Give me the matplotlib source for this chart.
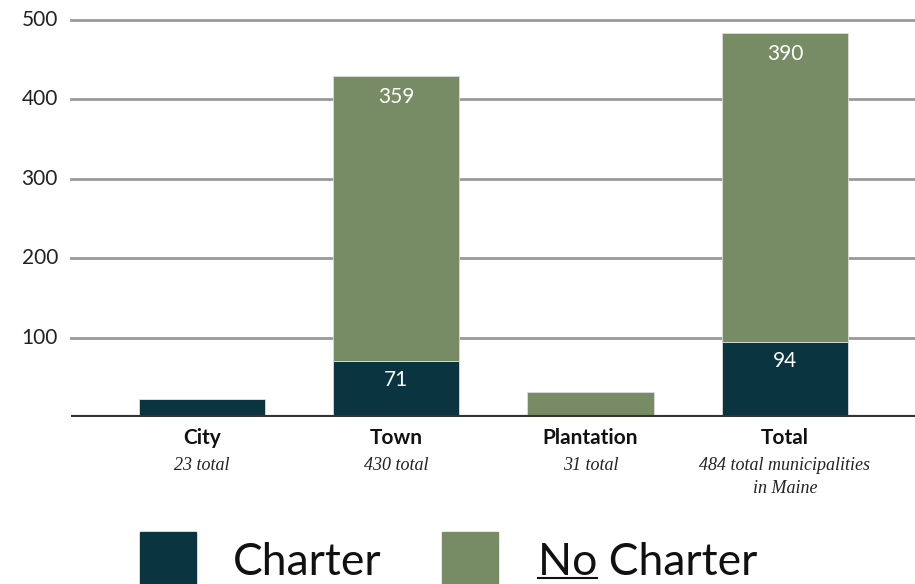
import numpy as np
import matplotlib
matplotlib.use("Agg")
import matplotlib.pyplot as plt
from matplotlib.patches import Rectangle

# data
categories = ["City", "Town", "Plantation", "Total"]
subtitles = ["23 total", "430 total", "31 total", "484 total municipalities\nin Maine"]
charter = [23, 71, 0, 94]
no_charter = [0, 359, 31, 390]
yticks = [100, 200, 300, 400, 500]

dark = "#0a3540"
green = "#778b64"

plt.rcParams['font.family'] = ['Lato', 'DejaVu Sans']

W, H = 915, 584
fig = plt.figure(figsize=(W / 100, H / 100), dpi=100)
ax = fig.add_axes([71 / W, 167 / H, (915 - 71) / W, (564 - 167) / H])

x = np.arange(len(categories))
ax.bar(x, charter, width=0.65, color=dark, edgecolor="#dddddd", linewidth=0.6, zorder=3)
ax.bar(x, no_charter, width=0.65, bottom=charter, color=green, edgecolor="#dddddd", linewidth=0.6, zorder=3)

ax.set_xlim(-0.675, 3.67)
ax.set_ylim(0, 500)

for y in yticks:
    ax.axhline(y, color="#999999", linewidth=2, zorder=1, clip_on=False)
    ax.annotate(str(y), (0, y), xycoords=("axes fraction", "data"), xytext=(-13, 0),
                textcoords="offset pixels", ha="right", va="center",
                fontsize=15, color="#222222", annotation_clip=False)
ax.axhline(0, color="#333333", linewidth=3, zorder=4)

for spine in ax.spines.values():
    spine.set_visible(False)
ax.set_xticks([])
ax.set_yticks([])

# value labels inside segments
for i in range(len(categories)):
    if charter[i] > 50:
        ax.annotate(str(charter[i]), (x[i], charter[i]), xytext=(0, -19), textcoords="offset pixels",
                    ha="center", va="center", color="white", fontsize=15, zorder=5)
    if no_charter[i] > 50:
        ax.annotate(str(no_charter[i]), (x[i], charter[i] + no_charter[i]), xytext=(0, -21),
                    textcoords="offset pixels", ha="center", va="center", color="white",
                    fontsize=15, zorder=5)

# category labels
for i, (c, s) in enumerate(zip(categories, subtitles)):
    ax.annotate(c, (x[i], 0), xytext=(0, -21), textcoords="offset pixels", ha="center",
                va="center", fontsize=15, fontweight="bold", color="#111111", annotation_clip=False)
    ax.annotate(s, (x[i], 0), xytext=(0, -40), textcoords="offset pixels", ha="center",
                va="top", fontsize=13, fontstyle="italic", family="Liberation Serif",
                color="#222222", linespacing=1.45, annotation_clip=False)

# legend
fig.patches.append(Rectangle((140 / W, -0.02), 56 / W, 52 / H + 0.02, transform=fig.transFigure,
                             color=dark))
fig.patches.append(Rectangle((442 / W, -0.02), 56 / W, 52 / H + 0.02, transform=fig.transFigure,
                             color=green))
fig.text(233 / W, 9 / H, "Charter", fontsize=32, color="#111111", va="baseline")
fig.text(538 / W, 9 / H, "No Charter", fontsize=32, color="#111111", va="baseline")

# underline "No"
tmp = fig.text(538 / W, 9 / H, "No", fontsize=32, va="baseline")
fig.canvas.draw()
bb = tmp.get_window_extent()
tmp.remove()
fig.add_artist(plt.Line2D([bb.x0 / W, bb.x1 / W], [6 / H, 6 / H], transform=fig.transFigure,
                          color="#111111", linewidth=1.5))

fig.savefig("out.png", dpi=100)
